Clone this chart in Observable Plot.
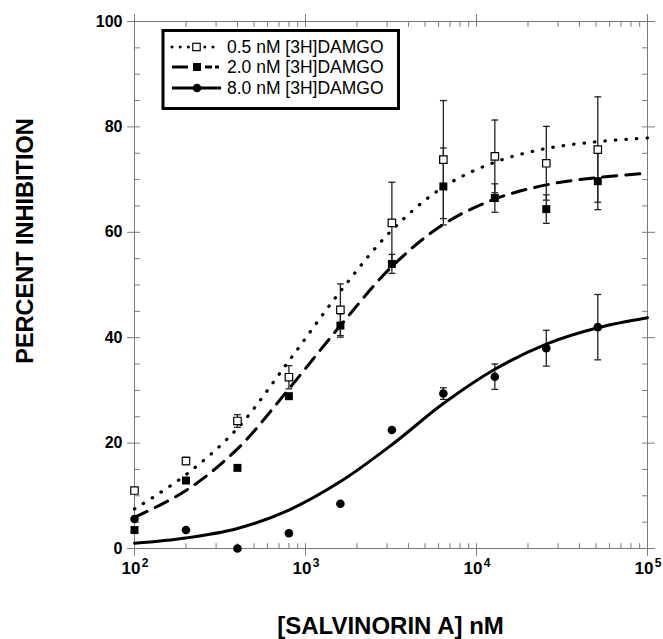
<!DOCTYPE html>
<html>
<head>
<meta charset="utf-8">
<script src="https://cdn.jsdelivr.net/npm/d3@7"></script>
<script src="https://cdn.jsdelivr.net/npm/@observablehq/plot@0.6"></script>
<style>
  body { margin: 0; background: #fff; }
  #chart { position: relative; width: 663px; height: 639px; }
</style>
</head>
<body>
<div id="chart"></div>
<script>
// Salvinorin A concentrations (nM)
const conc = [100, 200, 400, 800, 1600, 3200, 6400, 12800, 25600, 51200];

// Percent inhibition of [3H]DAMGO binding, mean and SEM
const inh05 = [11.0, 16.6, 24.2, 32.5, 45.3, 61.8, 73.8, 74.4, 73.1, 75.7];
const err05 = [0, 0.7, 1.2, 2.2, 4.9, 7.7, 11.2, 6.9, 7.0, 10.0];
const inh20 = [3.5, 12.9, 15.3, 28.9, 42.3, 54.0, 68.7, 66.5, 64.4, 69.7];
const err20 = [0, 0, 0, 0, 2.2, 1.8, 7.3, 2.7, 2.7, 5.4];
const inh80 = [5.6, 3.5, 0, 2.9, 8.5, 22.5, 29.4, 32.6, 38.0, 42.0];
const err80 = [0, 0, 0, 0, 0, 0, 1.1, 2.4, 3.4, 6.2];

// Fitted dose-response curves, sampled along the concentration axis
const fitConc = [100, 200, 400, 800, 1600, 3200, 6400, 12800, 25600, 51200, 100000];
const fit05 = [7.5, 14.0, 22.8, 35.6, 48.8, 60.4, 68.6, 73.3, 75.9, 77.2, 77.9];
const fit20 = [5.9, 11.0, 18.9, 30.3, 42.3, 53.5, 61.5, 66.3, 69.0, 70.4, 71.2];
const fit80 = [1.0, 2.0, 3.8, 7.3, 12.7, 19.7, 27.5, 34.0, 38.8, 41.9, 43.8];

// Axis ticks
const xMajor = [1e2, 1e3, 1e4, 1e5];
const xMinor = [1e2, 1e3, 1e4].flatMap(d => [2, 3, 4, 5, 6, 7, 8, 9].map(k => k * d));
const yMajor = [0, 20, 40, 60, 80, 100];
const yMinor = d3.range(5, 100, 5).filter(d => d % 20 !== 0);
const xExponents = ["2", "3", "4", "5"];

const seriesNames = ["0.5 nM [3H]DAMGO", "2.0 nM [3H]DAMGO", "8.0 nM [3H]DAMGO"];

const rows = (vals, errs) => conc.map((c, i) => ({c, v: vals[i], e: errs[i]}));
const pts05 = rows(inh05, err05);
const pts20 = rows(inh20, err20);
const pts80 = rows(inh80, err80);
const bars = [...pts05, ...pts20, ...pts80].filter(d => d.e > 0);
const fitRows = vals => fitConc.map((c, i) => ({c, v: vals[i]}));

const axisGray = "#7a7a7a";
const tickShape = {draw(ctx, l) { ctx.moveTo(0, 0); ctx.lineTo(0, -l); }};
const capSymbol = {draw(ctx) { ctx.moveTo(-3.4, 0); ctx.lineTo(3.4, 0); }};
const font = "'Liberation Sans', Arial, Helvetica, sans-serif";

const tick = (data, opts) => Plot.vector(data, {shape: tickShape, stroke: axisGray, strokeWidth: 1, ...opts});

const chart = Plot.plot({
  width: 663,
  height: 639,
  marginLeft: 134,
  marginRight: 16,
  marginTop: 21,
  marginBottom: 91,
  style: {fontFamily: font, background: "white", color: "black", overflow: "visible"},
  x: {type: "log", domain: [1e2, 1e5], axis: null},
  y: {domain: [0, 100], axis: null},
  marks: [
    Plot.frame({stroke: axisGray, strokeWidth: 1}),
    // inward minor ticks on all four sides
    tick(xMinor, {x: d => d, frameAnchor: "bottom", length: 5, anchor: "start", rotate: 0}),
    tick(xMinor, {x: d => d, frameAnchor: "top", length: 5, anchor: "start", rotate: 180}),
    tick(yMinor, {y: d => d, frameAnchor: "left", length: 5, anchor: "start", rotate: 90}),
    tick(yMinor, {y: d => d, frameAnchor: "right", length: 5, anchor: "start", rotate: 270}),
    // major ticks crossing the frame
    tick(xMajor, {x: d => d, frameAnchor: "bottom", length: 12, anchor: "start", rotate: 0, dy: 7}),
    tick(xMajor, {x: d => d, frameAnchor: "top", length: 12, anchor: "start", rotate: 180, dy: -7}),
    tick(yMajor, {y: d => d, frameAnchor: "left", length: 12, anchor: "start", rotate: 90, dx: -7}),
    tick(yMajor, {y: d => d, frameAnchor: "right", length: 12, anchor: "start", rotate: 270, dx: 7}),
    // tick labels
    Plot.text(yMajor, {y: d => d, text: d => String(d), frameAnchor: "left", dx: -12, textAnchor: "end",
      fontSize: 16, fontWeight: "bold"}),
    Plot.text(xMajor, {x: d => d, text: () => "10", frameAnchor: "bottom", dx: -3.5, dy: 25,
      fontSize: 17, fontWeight: "bold"}),
    Plot.text(xMajor, {x: d => d, text: (d, i) => xExponents[i], frameAnchor: "bottom", dx: 10.5, dy: 18.5,
      fontSize: 12, fontWeight: "bold"}),
    // error bars
    Plot.ruleX(bars, {x: "c", y1: d => d.v - d.e, y2: d => d.v + d.e, stroke: "#222", strokeWidth: 1.3}),
    Plot.dot(bars, {x: "c", y: d => d.v + d.e, symbol: capSymbol, stroke: "#222", strokeWidth: 1.3}),
    Plot.dot(bars, {x: "c", y: d => d.v - d.e, symbol: capSymbol, stroke: "#222", strokeWidth: 1.3}),
    // fitted curves
    Plot.line(fitRows(fit05), {x: "c", y: "v", curve: "catmull-rom", stroke: "black", strokeWidth: 3.2,
      strokeDasharray: "0.5,10", strokeLinecap: "round"}),
    Plot.line(fitRows(fit20), {x: "c", y: "v", curve: "catmull-rom", stroke: "black", strokeWidth: 3,
      strokeDasharray: "14,9"}),
    Plot.line(fitRows(fit80), {x: "c", y: "v", curve: "catmull-rom", stroke: "black", strokeWidth: 3}),
    // data points
    Plot.dot(pts80, {x: "c", y: "v", r: 4.3, fill: "black", stroke: "none"}),
    Plot.dot(pts20, {x: "c", y: "v", r: 4.5, symbol: "square", fill: "black", stroke: "none"}),
    Plot.dot(pts05, {x: "c", y: "v", r: 4.2, symbol: "square", fill: "white", stroke: "black", strokeWidth: 1.2})
  ]
});

const svg = d3.select(chart);

// Axis titles
svg.append("text")
  .attr("transform", "translate(33,241) rotate(-90)")
  .attr("text-anchor", "middle")
  .attr("font-family", font).attr("font-weight", "bold").attr("font-size", 23.5)
  .text("PERCENT INHIBITION");
svg.append("text")
  .attr("x", 390.5).attr("y", 634)
  .attr("text-anchor", "middle")
  .attr("font-family", font).attr("font-weight", "bold").attr("font-size", 24)
  .text("[SALVINORIN A] nM");

// Legend box in the upper left of the plot area
const lg = svg.append("g").attr("font-family", font).attr("font-size", 17.5).attr("text-anchor", "start");
lg.append("rect").attr("x", 163).attr("y", 30.5).attr("width", 235.5).attr("height", 78)
  .attr("fill", "white").attr("stroke", "black").attr("stroke-width", 3);
const legendRows = [
  {y: 47, dash: "0,8.2", cap: "round", w: 3},
  {y: 67, dash: "16,17,7,3,4", cap: "butt", w: 3},
  {y: 88, dash: null, cap: "butt", w: 3}
];
legendRows.forEach((r, i) => {
  lg.append("line").attr("x1", 172).attr("x2", 221).attr("y1", r.y).attr("y2", r.y)
    .attr("stroke", "black").attr("stroke-width", r.w)
    .attr("stroke-dasharray", r.dash).attr("stroke-linecap", r.cap);
  if (i === 0) lg.append("rect").attr("x", 192.8).attr("y", r.y - 3.7).attr("width", 7.4).attr("height", 7.4)
    .attr("fill", "white").attr("stroke", "black").attr("stroke-width", 1.2);
  if (i === 1) lg.append("rect").attr("x", 193).attr("y", r.y - 4).attr("width", 8).attr("height", 8)
    .attr("fill", "black");
  if (i === 2) lg.append("circle").attr("cx", 197).attr("cy", r.y).attr("r", 4.3).attr("fill", "black");
  lg.append("text").attr("x", 227).attr("y", r.y).attr("dy", "0.36em").text(seriesNames[i]);
});

document.getElementById("chart").appendChild(chart);
</script>
</body>
</html>
